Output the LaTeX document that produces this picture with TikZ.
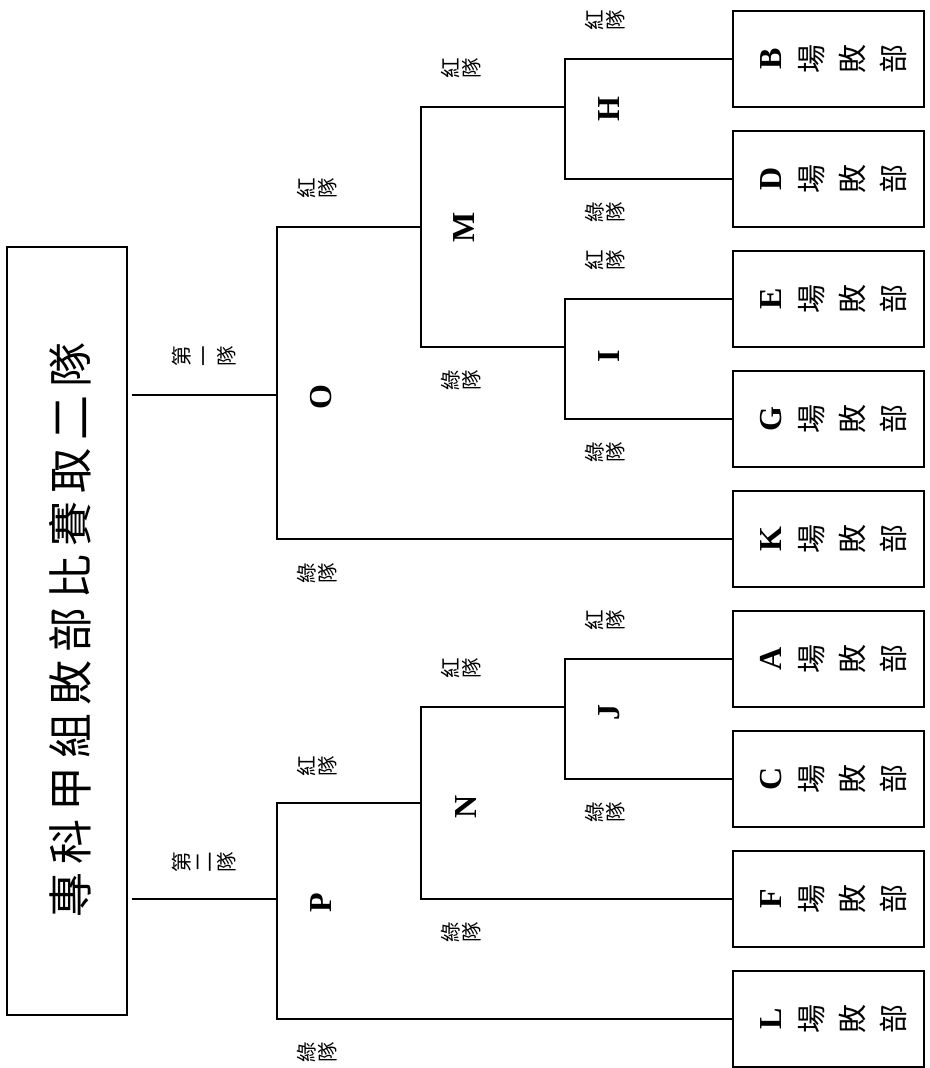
\documentclass[tikz,border=0pt]{standalone}
\usepackage{fontspec}
\setmainfont{Liberation Serif}
\newfontfamily\cjk{Noto Sans CJK TC}
\newcommand\boxlbl[1]{{\fontsize{32}{41}\selectfont\rmfamily\bfseries #1}\\場\\敗\\部}
\newcommand\tk{\kern8pt}
\begin{document}
\begin{tikzpicture}[x=1pt,y=1pt,
  ln/.style={line width=1.8pt},
  teambox/.style={draw, line width=1.8pt, minimum width=191pt, minimum height=96pt, inner sep=0pt},
  boxtext/.style={rotate=90, align=center, inner sep=0pt, font=\fontsize{29}{41}\selectfont\cjk},
  mlabel/.style={rotate=90, inner sep=0pt, font=\fontsize{32}{32}\selectfont\bfseries},
  tlabel/.style={rotate=90, align=center, inner sep=0pt, font=\fontsize{20.5}{21}\selectfont\cjk},
  flabel/.style={rotate=90, align=center, inner sep=0pt, font=\fontsize{20.5}{22.5}\selectfont\cjk},
]
\useasboundingbox (0,0) rectangle (929,-1068);

% title
\node[draw, line width=1.3pt, minimum width=120pt, minimum height=768pt, inner sep=0pt] (T) at (67,-631) {};
\node[rotate=90, inner sep=0pt, font=\fontsize{45}{45}\selectfont\cjk] (Ttxt) at (70,-629.5)
  {專\tk 科\tk 甲\tk 組\tk 敗\tk 部\tk 比\tk 賽\tk 取\tk 二\tk 隊};

% team boxes
\foreach \n/\yy in {B/59, D/179, E/299, G/419, K/539, A/659, C/779, F/899, L/1019}{
  \node[teambox] (\n) at (828.5,-\yy) {};
  \node[boxtext] (t\n) at (834,-\yy) {\boxlbl{\n}};
}

% junctions
\coordinate (Hj) at (565,-107);
\coordinate (Ij) at (565,-347);
\coordinate (Jj) at (565,-707);
\coordinate (Mj) at (421,-227);
\coordinate (Nj) at (421,-803);
\coordinate (Oj) at (277,-395);
\coordinate (Pj) at (277,-899);

% brackets
\draw[ln] (B.west) -- (B.west -| Hj) -- (D.west -| Hj) -- (D.west);
\draw[ln] (E.west) -- (E.west -| Ij) -- (G.west -| Ij) -- (G.west);
\draw[ln] (A.west) -- (A.west -| Jj) -- (C.west -| Jj) -- (C.west);
\draw[ln] (Hj) -- (Hj -| Mj) -- (Ij -| Mj) -- (Ij);
\draw[ln] (Jj) -- (Jj -| Nj) -- (F.west -| Nj) -- (F.west);
\draw[ln] (Mj) -- (Mj -| Oj) -- (K.west -| Oj) -- (K.west);
\draw[ln] (Nj) -- (Nj -| Pj) -- (L.west -| Pj) -- (L.west);
\draw[ln] ([xshift=4pt]T.east |- Oj) -- (Oj);
\draw[ln] ([xshift=4pt]T.east |- Pj) -- (Pj);

% match letters
\node[mlabel] (lH) at (609,-109) {H};
\node[mlabel] (lI) at (609,-356) {I};
\node[mlabel] (lJ) at (609,-712) {J};
\node[mlabel] (lM) at (464,-227) {M};
\node[mlabel] (lN) at (466,-807) {N};
\node[mlabel] (lO) at (321,-397) {O};
\node[mlabel] (lP) at (321,-903) {P};

% red / green labels
\node[tlabel] (r1) at (605,-20) {紅\\隊};
\node[tlabel] (g1) at (605,-212) {綠\\隊};
\node[tlabel] (r2) at (605,-260) {紅\\隊};
\node[tlabel] (g2) at (605,-452) {綠\\隊};
\node[tlabel] (r3) at (605,-620) {紅\\隊};
\node[tlabel] (g3) at (605,-812) {綠\\隊};
\node[tlabel] (r4) at (461,-68) {紅\\隊};
\node[tlabel] (g4) at (461,-380) {綠\\隊};
\node[tlabel] (r5) at (461,-668) {紅\\隊};
\node[tlabel] (g5) at (461,-932) {綠\\隊};
\node[tlabel] (r6) at (317,-188) {紅\\隊};
\node[tlabel] (g6) at (317,-573) {綠\\隊};
\node[tlabel] (r7) at (317,-766) {紅\\隊};
\node[tlabel] (g7) at (317,-1052) {綠\\隊};
\node[flabel] (f1) at (204,-356) {第\\一\\隊};
\node[flabel] (f2) at (204,-862) {第\\二\\隊};
\end{tikzpicture}
\end{document}
